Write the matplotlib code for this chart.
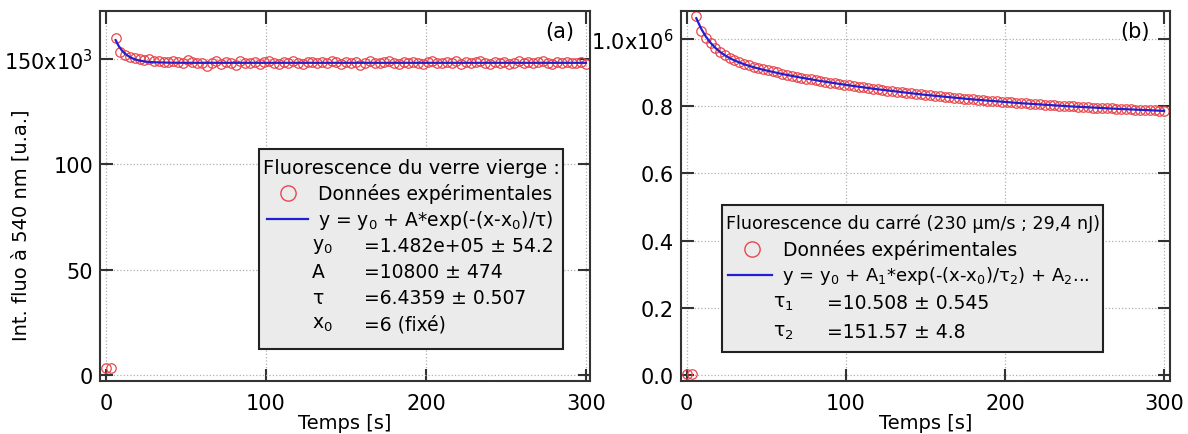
import numpy as np
import matplotlib
matplotlib.use("Agg")
import matplotlib.pyplot as plt
from matplotlib.lines import Line2D
from matplotlib.patches import Rectangle
from matplotlib.ticker import FixedLocator, FixedFormatter

plt.rcParams['font.family'] = ['DejaVu Sans']
plt.rcParams['mathtext.fontset'] = 'dejavusans'

# ---------------- data ----------------
# panel (a): glass fluorescence (values in units of 1e3)
a_t_off = [0, 3]
a_y_off = [3.5, 3.5]
a_t = np.arange(6, 301, 3)
a_y = [160.0, 153.4, 152.0, 151.0, 150.4, 149.9, 149.7, 149.9, 149.3, 149.0,
       148.8, 148.6, 149.1, 148.5, 148.2, 149.6, 148.7, 148.3, 147.9, 146.9,
       148.2, 148.9, 147.8, 148.5, 148.1, 147.4, 148.9, 148.3, 148.0, 148.8,
       147.6, 148.4, 149.2, 148.1, 147.7, 148.6, 148.3, 149.0, 148.2, 147.5,
       148.4, 148.8, 147.9, 148.6, 148.1, 149.3, 148.4, 147.8, 148.5, 148.0,
       148.7, 147.4, 148.3, 148.9, 148.1, 147.9, 148.6, 149.1, 148.2, 147.7,
       148.5, 148.0, 148.8, 148.3, 147.6, 148.4, 149.2, 148.1, 147.9, 148.6,
       148.2, 148.9, 147.8, 148.4, 148.0, 148.7, 149.0, 148.2, 147.7, 148.5,
       148.1, 148.8, 147.5, 148.3, 148.9, 148.0, 148.6, 147.9, 148.4, 149.1,
       148.2, 147.8, 148.5, 148.1, 148.7, 148.3, 148.0, 148.4, 147.6]
a_fit_t = [6, 8, 10, 12, 15, 18, 21, 25, 30, 40, 50, 100, 150, 200, 250, 300]
a_fit_y = [159.0, 156.1, 154.0, 152.45, 150.87, 149.87, 149.25, 148.76, 148.46,
           148.26, 148.21, 148.2, 148.2, 148.2, 148.2, 148.2]

# panel (b): square fluorescence (values in units of 1e6)
b_t_off = [0, 3]
b_y_off = [0.002, 0.002]
b_t = np.arange(6, 301, 3)
b_y = [1.067, 1.024, 1.003, 0.988, 0.974, 0.962, 0.952, 0.944, 0.937, 0.931,
       0.926, 0.921, 0.917, 0.913, 0.909, 0.906, 0.903, 0.900, 0.897, 0.894,
       0.891, 0.888, 0.885, 0.882, 0.880, 0.877, 0.875, 0.873, 0.870, 0.868,
       0.866, 0.864, 0.862, 0.860, 0.858, 0.856, 0.854, 0.852, 0.850, 0.848,
       0.846, 0.845, 0.843, 0.841, 0.840, 0.838, 0.836, 0.835, 0.833, 0.832,
       0.830, 0.829, 0.828, 0.826, 0.825, 0.824, 0.822, 0.821, 0.820, 0.819,
       0.817, 0.816, 0.815, 0.814, 0.813, 0.812, 0.811, 0.810, 0.809, 0.808,
       0.807, 0.806, 0.805, 0.804, 0.803, 0.802, 0.801, 0.800, 0.799, 0.799,
       0.798, 0.797, 0.796, 0.795, 0.795, 0.794, 0.793, 0.793, 0.792, 0.791,
       0.791, 0.790, 0.789, 0.789, 0.788, 0.787, 0.787, 0.786, 0.786]
b_fit_t = [6, 9, 12, 15, 18, 21, 24, 27, 30, 36, 42, 48, 60, 72, 84, 102,
           120, 150, 180, 210, 240, 270, 300]
b_fit_y = [1.0616, 1.0309, 1.0070, 0.9882, 0.9732, 0.9610, 0.9511, 0.9429,
           0.9359, 0.9246, 0.9157, 0.9082, 0.8955, 0.8846, 0.8748, 0.8617,
           0.8500, 0.8334, 0.8198, 0.8087, 0.7995, 0.7920, 0.7858]

a_yticks = [0, 50, 100, 150]
a_ytick_labels = ["0", "50", "100", r"150x10$^{3}$"]
b_yticks = [0.0, 0.2, 0.4, 0.6, 0.8, 1.0]
b_ytick_labels = ["0.0", "0.2", "0.4", "0.6", "0.8", r"1.0x10$^{6}$"]
xticks = [0, 100, 200, 300]

W, H = 1188, 435
fig = plt.figure(figsize=(W / 100, H / 100), dpi=100)

def fx(x):
    return x / W

def fy(y):
    return 1 - y / H

FS = 13.5      # legend text
TFS = 15       # tick labels
LFS = 14       # axis labels
RED = '#e8474c'
BLUE = '#2020d0'
MS = 6.8

def style(ax):
    for s in ax.spines.values():
        s.set_color('#333333')
        s.set_linewidth(1.5)
    ax.tick_params(direction='in', length=9, width=1.5, color='#333333',
                   top=True, right=True, labelsize=TFS, pad=5)
    ax.tick_params(axis='x', pad=9)
    ax.grid(True, ls=':', color='#b0b0b0', lw=0.9)
    ax.set_axisbelow(True)
    ax.xaxis.set_major_locator(FixedLocator(xticks))
    ax.set_xlabel("Temps [s]", fontsize=LFS, labelpad=0)

# ---- panel (a)
axa = fig.add_axes([fx(100), fy(382), fx(590) - fx(100), fy(12) - fy(382)])
style(axa)
axa.plot(a_t_off, np.array(a_y_off) * 1e3, 'o', mfc='none',
         mec=RED, ms=MS, mew=0.9)
axa.plot(a_t, np.array(a_y) * 1e3, 'o', mfc='none', mec=RED, ms=MS, mew=0.9)
axa.plot(a_fit_t, np.array(a_fit_y) * 1e3, '-', color=BLUE, lw=1.6)
axa.set_xlim(-3.75, 302.5)
axa.set_ylim(-2850, 172800)
axa.yaxis.set_major_locator(FixedLocator([v * 1e3 for v in a_yticks]))
axa.yaxis.set_major_formatter(FixedFormatter(a_ytick_labels))
axa.set_ylabel("Int. fluo à 540 nm [u.a.]", fontsize=LFS)
axa.yaxis.set_label_coords(-0.142, 0.424)
axa.text(0.968, 0.972, "(a)", transform=axa.transAxes, ha='right', va='top',
         fontsize=TFS)

# ---- panel (b)
axb = fig.add_axes([fx(681), fy(382), fx(1170) - fx(681), fy(12) - fy(382)])
style(axb)
axb.plot(b_t_off, np.array(b_y_off) * 1e6, 'o', mfc='none', mec=RED, ms=MS,
         mew=0.9)
axb.plot(b_t, np.array(b_y) * 1e6, 'o', mfc='none', mec=RED, ms=MS, mew=0.9)
axb.plot(b_fit_t, np.array(b_fit_y) * 1e6, '-', color=BLUE, lw=1.6)
axb.set_xlim(-3.6, 303.7)
axb.set_ylim(-0.018e6, 1.083e6)
axb.yaxis.set_major_locator(FixedLocator([v * 1e6 for v in b_yticks]))
axb.yaxis.set_major_formatter(FixedFormatter(b_ytick_labels))
axb.text(0.958, 0.972, "(b)", transform=axb.transAxes, ha='right', va='top',
         fontsize=TFS)


def legend_box(x0, y0, x1, y1):
    r = Rectangle((fx(x0), fy(y1)), fx(x1) - fx(x0), fy(y0) - fy(y1),
                  transform=fig.transFigure, facecolor='#ebebeb',
                  edgecolor='#222222', lw=1.5, zorder=10)
    fig.patches.append(r)


def ftext(x, y, s, size=FS, **kw):
    fig.text(fx(x), fy(y), s, fontsize=size, va='center', ha='left',
             zorder=11, **kw)


def marker(x, y):
    fig.add_artist(Line2D([fx(x)], [fy(y)], marker='o', mfc='none', mec=RED,
                          ms=11, mew=1.0, transform=fig.transFigure,
                          zorder=11))


def sample_line(x0, x1, y):
    fig.add_artist(Line2D([fx(x0), fx(x1)], [fy(y), fy(y)], color=BLUE,
                          lw=1.6, transform=fig.transFigure, zorder=11))

# legend (a)
legend_box(259, 150, 563, 350)
ftext(263, 168, "Fluorescence du verre vierge :", size=14)
marker(288, 194)
ftext(318, 194, "Données expérimentales")
sample_line(267, 308, 220)
ftext(318, 220, r"y = y$_0$ + A*exp(-(x-x$_0$)/τ)")
ftext(312, 247, r"y$_0$")
ftext(364, 247, "=1.482e+05 ± 54.2")
ftext(312, 273, "A")
ftext(364, 273, "=10800 ± 474")
ftext(312, 299, "τ")
ftext(364, 299, "=6.4359 ± 0.507")
ftext(312, 325, r"x$_0$")
ftext(364, 325, "=6 (fixé)")

# legend (b)
legend_box(722, 206, 1103, 353)
ftext(726, 224, "Fluorescence du carré (230 μm/s ; 29,4 nJ)", size=12.6)
marker(752, 250)
ftext(783, 250, "Données expérimentales")
sample_line(728, 772, 276)
ftext(782, 276, r"y = y$_0$ + A$_1$*exp(-(x-x$_0$)/τ$_2$) + A$_2$...",
      size=13)
ftext(773, 304, r"τ$_1$")
ftext(827, 304, "=10.508 ± 0.545")
ftext(773, 333, r"τ$_2$")
ftext(827, 333, "=151.57 ± 4.8")

fig.savefig("out.png", dpi=100)
